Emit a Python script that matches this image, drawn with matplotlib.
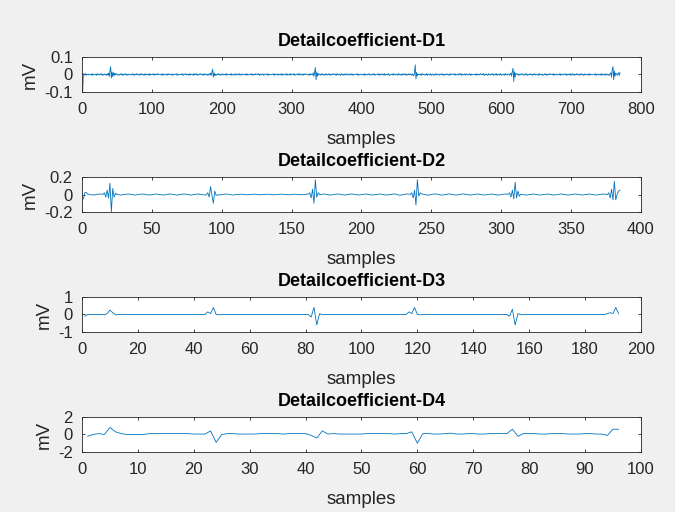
import numpy as np
import matplotlib.pyplot as plt

plt.rcParams['font.family'] = ['Liberation Sans', 'DejaVu Sans']
plt.rcParams['axes.unicode_minus'] = False

# --- data ------------------------------------------------------------------
# low-level ripple, one digit per sample (value = (digit - 4.5) * scale)
D1_NOISE = [
    "5463725463 4537264536 2745364725 3645273645 5372645376 2453647253 6472536453",
    "4736254736 5263745362 7453627354 6372546375 4536274536 5274635472 3645726354",
    "5637245736 4527364527 3647253647 5362745362 4735264735 6254736254 7354627354",
    "4627354627 5364725364 6453726453 4736254736 5472635472 3654726354 4563725463",
    "6354726354 4726354726 5637245637 3745263745 6453627453 4536274536 5274635274",
    "3647253647 5362745362 4735264735 6254736254 5463725463 4537264536 7245364725",
    "4563725463 6372546372 3546274536 5274635274 4736254736 5263745263 6453627453",
    "5372645372 4635274635 6254736254 3745263745 5637245637 4726354726 6354726354",
    "4537264537 5463725463 2745364725 6372546372 4536274536 5274635274 3647253647",
    "6254736254 4735264735 5362745362 3647253647 5463725463 4537264536 6372546372",
    "4736254736 5263745263 6453627453 4563725463 5372645372 4635274635 5463725463",
]
D2_NOISE = [
    "45675432345 67654323456 76543234567 65432345676 54323456765",
    "43234567654 32345676543 23456765432 34567654323 45676543234",
    "55665443455 56654434556 65543345566 55443455665 44345566544",
    "43234567654 32345676543 23456765432 34567654323 45676543234",
    "46775321345 77654223467 76532234677 65422345776 53323467765",
    "43234567654 32345676543 23456765432 34567654323 45676543234",
    "56765432345 67654323456 76543234567 65432345676 54323456765",
]

# QRS bursts (sample index -> value)
D1_EVENTS = {
    1: -0.095, 2: 0.005,
    38: 0.008, 39: -0.012, 40: 0.02, 41: 0.045, 42: -0.02, 43: 0.015, 44: -0.012, 45: 0.01, 46: -0.006, 47: 0.008,
    184: 0.008, 185: -0.006, 186: 0.015, 187: 0.03, 188: -0.015, 189: 0.01, 190: -0.008,
    331: 0.01, 332: -0.01, 333: 0.015, 334: 0.04, 335: -0.03, 336: 0.015, 337: -0.01, 338: 0.006,
    475: -0.008, 476: 0.015, 477: 0.055, 478: -0.025, 479: 0.012, 480: -0.008,
    614: 0.008, 615: -0.01, 616: 0.02, 617: 0.035, 618: -0.04, 619: 0.015, 620: -0.015, 621: 0.008,
    757: 0.01, 758: -0.015, 759: 0.03, 760: 0.045, 761: -0.03, 762: 0.02, 763: -0.01, 764: 0.008,
    768: 0.01, 769: -0.005, 770: 0.012,
}
D2_EVENTS = {
    1: -0.05, 2: 0.02, 3: 0.025, 4: 0.005,
    16: 0.02, 17: -0.03, 18: 0.05, 19: -0.04, 20: 0.13, 21: -0.2, 22: 0.07, 23: -0.03, 24: 0.015,
    90: 0.02, 91: -0.03, 92: 0.09, 93: -0.01, 94: -0.1, 95: 0.04, 96: -0.01,
    163: 0.02, 164: -0.04, 165: 0.06, 166: -0.1, 167: 0.17, 168: -0.03, 169: 0.02,
    236: 0.02, 237: -0.04, 238: 0.05, 239: -0.12, 240: 0.17, 241: -0.02, 242: 0.02,
    306: 0.02, 307: -0.03, 308: 0.05, 309: -0.05, 310: 0.14, 311: -0.04, 312: 0.04, 313: -0.02,
    377: 0.02, 378: -0.04, 379: 0.06, 380: -0.06, 381: 0.15, 382: -0.06, 383: 0.0, 384: 0.04, 385: 0.05,
}
D3_LENGTH = 192
D3_EVENTS = {
    1: -0.1, 2: 0.0,
    8: -0.02, 9: 0.05, 10: 0.25, 11: 0.1, 12: -0.02,
    45: 0.15, 46: 0.05, 47: 0.4, 48: 0.0, 49: -0.02,
    82: -0.15, 83: 0.4, 84: -0.6, 85: 0.05, 86: -0.02,
    117: 0.15, 118: 0.05, 119: 0.4, 120: 0.0, 121: -0.02,
    153: -0.1, 154: 0.3, 155: -0.6, 156: 0.05, 157: -0.02,
    188: 0.05, 189: 0.1, 190: 0.05, 191: 0.4, 192: 0.05,
}
D4 = [-0.2, 0.0, 0.1, 0.0, 0.8, 0.3, 0.1, 0.0, 0.0, 0.0,
      0.0, 0.1, 0.1, 0.1, 0.1, 0.1, 0.1, 0.1, 0.1, 0.05,
      0.05, 0.05, 0.4, -0.9, 0.0, 0.1, 0.1, 0.05, 0.05, 0.05,
      0.05, 0.1, 0.1, 0.1, 0.1, 0.05, 0.1, 0.1, 0.1, 0.1,
      -0.1, -0.4, 0.4, 0.05, 0.1, 0.05, 0.05, 0.05, 0.05, 0.05,
      0.1, 0.1, 0.1, 0.1, 0.1, 0.05, 0.1, 0.1, 0.3, -1.0,
      0.1, 0.1, 0.05, 0.05, 0.1, 0.15, 0.05, 0.05, 0.1, 0.1,
      0.05, 0.05, 0.1, 0.1, 0.1, 0.1, 0.6, -0.2, 0.1, 0.1,
      0.1, 0.05, 0.05, 0.1, 0.1, 0.1, 0.05, 0.05, 0.05, 0.1,
      0.1, 0.05, 0.05, -0.1, 0.6, 0.6]

TITLES = ['Detailcoefficient-D1', 'Detailcoefficient-D2',
          'Detailcoefficient-D3', 'Detailcoefficient-D4']
XLIMS = [800, 400, 200, 100]
XSTEPS = [100, 50, 20, 10]
YLIMS = [0.1, 0.2, 1, 2]
YTICKLABELS = [['-0.1', '0', '0.1'], ['-0.2', '0', '0.2'],
               ['-1', '0', '1'], ['-2', '0', '2']]


def decode(lines, scale):
    digits = ''.join(lines).replace(' ', '')
    return (np.array([int(c) for c in digits]) - 4.5) * scale


def place(base, events):
    sig = np.array(base, dtype=float)
    for x, v in events.items():
        sig[x - 1] = v
    return sig


d1 = place(decode(D1_NOISE, 0.002), D1_EVENTS)
d2 = place(decode(D2_NOISE, 0.0025), D2_EVENTS)
d3 = place(np.zeros(D3_LENGTH), D3_EVENTS)
d4 = np.array(D4)
signals = [d1, d2, d3, d4]

fig = plt.figure(figsize=(6.75, 5.12), dpi=100)
fig.patch.set_facecolor('#F0F0F0')

edge = '#262626'
bottoms = [0.8203, 0.5859, 0.3516, 0.1172]
for i, sig in enumerate(signals):
    ax = fig.add_axes([0.1215, bottoms[i], 0.828, 0.0684])
    ax.plot(np.arange(1, len(sig) + 1), sig, color='#0072BD', lw=0.6)
    ax.set_xlim(0, XLIMS[i])
    ax.set_xticks(np.arange(0, XLIMS[i] + 1, XSTEPS[i]))
    ax.set_ylim(-YLIMS[i], YLIMS[i])
    ax.set_yticks([-YLIMS[i], 0, YLIMS[i]])
    ax.set_yticklabels(YTICKLABELS[i])
    ax.tick_params(direction='in', top=True, right=True, length=2.5,
                   width=0.6, colors=edge, labelsize=12)
    ax.tick_params(axis='x', pad=7.5)
    ax.tick_params(axis='y', pad=6.5)
    for s in ax.spines.values():
        s.set_color(edge)
        s.set_linewidth(0.6)
    ax.set_title(TITLES[i], fontsize=13, fontweight='bold', pad=8)
    ax.set_xlabel('samples', fontsize=13.5, color=edge, labelpad=10)
    ax.set_ylabel('mV', fontsize=13.5, color=edge, labelpad=4)

fig.savefig('out.png', dpi=100, facecolor=fig.get_facecolor())
